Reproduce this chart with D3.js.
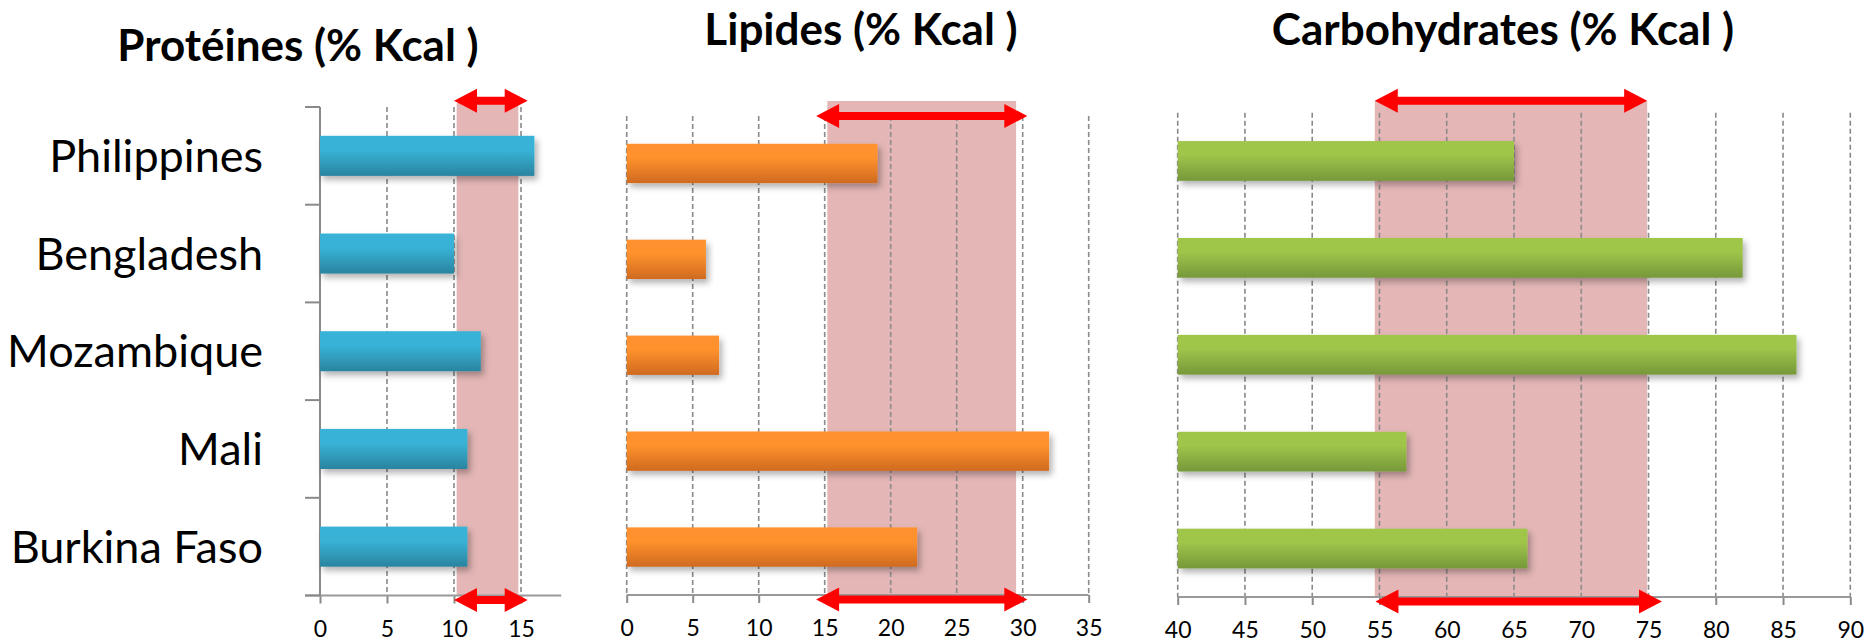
<!DOCTYPE html>
<html lang="fr">
<head>
<meta charset="utf-8">
<title>Apports nutritionnels</title>
<script src="https://d3js.org/d3.v7.min.js"></script>
<style>
  body { margin: 0; background: #fff; }
  text { font-family: Lato, "Open Sans", sans-serif; fill: #000; }
</style>
</head>
<body>
<div id="chart"></div>
<script>
// data
var countries = ["Philippines", "Bengladesh", "Mozambique", "Mali", "Burkina Faso"];
var proteines = [16, 10, 12, 11, 11];
var lipides = [19, 6, 7, 32, 22];
var carbohydrates = [65, 82, 86, 57, 66];

var titles = ["Protéines (% Kcal )", "Lipides (% Kcal )", "Carbohydrates (% Kcal )"];
var proteineTicks = [0, 5, 10, 15];
var lipideTicks = [0, 5, 10, 15, 20, 25, 30, 35];
var carboTicks = [40, 45, 50, 55, 60, 65, 70, 75, 80, 85, 90];

// recommended zone (shaded) and the red arrows
var proteineZone = [10.2, 14.8];
var lipideZone = [15.2, 29.5];
var carboZone = [54.65, 74.9];
var proteineArrow = [10, 15.5];
var lipideArrow = [14.35, 30.35];
var carboArrowTop = [54.65, 74.9];
var carboArrowBottom = [54.7, 76];

var width = 1868, height = 643;

var svg = d3.select("#chart").append("svg")
    .attr("width", width)
    .attr("height", height);

var defs = svg.append("defs");

function gradient(id, top, bottom) {
    var g = defs.append("linearGradient")
        .attr("id", id)
        .attr("x1", 0).attr("y1", 0).attr("x2", 0).attr("y2", 1);
    g.append("stop").attr("offset", "0%").attr("stop-color", top);
    g.append("stop").attr("offset", "35%").attr("stop-color", top);
    g.append("stop").attr("offset", "100%").attr("stop-color", bottom);
}
gradient("gBlue", "#38b3d7", "#2a849f");
gradient("gOrange", "#ff922d", "#cf6a1f");
gradient("gGreen", "#9fc54a", "#76983a");

var shadow = defs.append("filter").attr("id", "shadow")
    .attr("x", "-5%").attr("y", "-20%").attr("width", "115%").attr("height", "160%");
shadow.append("feDropShadow")
    .attr("dx", 3).attr("dy", 4)
    .attr("stdDeviation", 3)
    .attr("flood-color", "#000")
    .attr("flood-opacity", 0.3);

function arrowPath(x1, x2, y) {
    var hl = 23, hh = 12, st = 4;
    return "M" + x1 + "," + y +
        "L" + (x1 + hl) + "," + (y - hh) +
        "L" + (x1 + hl) + "," + (y - st) +
        "L" + (x2 - hl) + "," + (y - st) +
        "L" + (x2 - hl) + "," + (y - hh) +
        "L" + x2 + "," + y +
        "L" + (x2 - hl) + "," + (y + hh) +
        "L" + (x2 - hl) + "," + (y + st) +
        "L" + (x1 + hl) + "," + (y + st) +
        "L" + (x1 + hl) + "," + (y + hh) + "Z";
}

function drawPanel(p) {
    var g = svg.append("g");

    var x = d3.scaleLinear().domain(p.domain).range(p.xRange);
    var y = d3.scaleBand().domain(countries).range(p.yRange)
        .paddingInner(0.59).paddingOuter(0.295);
    var y0 = p.yRange[0], y1 = p.yRange[1];

    // title
    g.append("text")
        .attr("x", p.titleX).attr("y", p.titleY)
        .attr("text-anchor", "middle")
        .style("font-weight", "bold")
        .style("font-size", "44px")
        .text(p.title);

    // shaded zone
    g.append("rect")
        .attr("x", x(p.zone[0]))
        .attr("y", p.zoneTop)
        .attr("width", x(p.zone[1]) - x(p.zone[0]))
        .attr("height", y1 - p.zoneTop)
        .attr("fill", "#e4b6b6");

    // dashed gridlines
    g.selectAll(".grid")
        .data(p.ticks.filter(function(t) { return !(p.yAxis && t === p.domain[0]); }))
        .enter().append("line")
        .attr("x1", function(d) { return x(d); })
        .attr("x2", function(d) { return x(d); })
        .attr("y1", p.gridTop)
        .attr("y2", y1)
        .attr("stroke", "#8a8a8a")
        .attr("stroke-width", 1.6)
        .attr("stroke-dasharray", "5,3");

    // x axis
    var axis = g.append("g")
        .attr("transform", "translate(0," + y1 + ")")
        .call(d3.axisBottom(x).tickValues(p.ticks).tickSize(8).tickPadding(17).tickSizeOuter(0));
    axis.select(".domain").remove();
    axis.selectAll(".tick line").attr("stroke", "#8a8a8a").attr("stroke-width", 2);
    axis.selectAll(".tick text")
        .style("font-size", "23px")
        .style("font-family", "Lato, sans-serif");

    g.append("line")
        .attr("x1", p.yAxis ? x(p.domain[0]) - 15 : x(p.domain[0]))
        .attr("x2", x(p.domain[1]))
        .attr("y1", y1).attr("y2", y1)
        .attr("stroke", "#999").attr("stroke-width", 2);

    // y axis with category ticks (first panel only)
    if (p.yAxis) {
        g.append("line")
            .attr("x1", x(p.domain[0])).attr("x2", x(p.domain[0]))
            .attr("y1", y0).attr("y2", y1)
            .attr("stroke", "#8a8a8a").attr("stroke-width", 2);
        var bounds = d3.range(countries.length + 1).map(function(i) {
            return y0 + i * y.step();
        });
        g.selectAll(".ytick").data(bounds).enter().append("line")
            .attr("x1", x(p.domain[0]) - 15).attr("x2", x(p.domain[0]))
            .attr("y1", function(d) { return d; })
            .attr("y2", function(d) { return d; })
            .attr("stroke", "#8a8a8a").attr("stroke-width", 2);

        g.selectAll(".label").data(countries).enter().append("text")
            .attr("x", 263)
            .attr("y", function(d) { return y(d) + y.bandwidth() / 2; })
            .attr("dy", "0.36em")
            .attr("text-anchor", "end")
            .style("font-size", "45px")
            .text(function(d) { return d; });
    }

    // bars
    g.selectAll(".bar").data(p.values).enter().append("rect")
        .attr("x", x(p.domain[0]))
        .attr("y", function(d, i) { return y(countries[i]); })
        .attr("width", function(d) { return x(d) - x(p.domain[0]); })
        .attr("height", y.bandwidth())
        .attr("fill", "url(#" + p.fill + ")")
        .attr("filter", "url(#shadow)");

    // red arrows
    g.append("path")
        .attr("d", arrowPath(x(p.arrowTop[0]), x(p.arrowTop[1]), p.arrowTopY))
        .attr("fill", "#ff0000");
    g.append("path")
        .attr("d", arrowPath(x(p.arrowBottom[0]), x(p.arrowBottom[1]), y1 + 4.5))
        .attr("fill", "#ff0000");
}

drawPanel({
    title: titles[0], titleX: 298, titleY: 61,
    values: proteines, domain: [0, 18], ticks: proteineTicks,
    xRange: [320, 561.2], yRange: [107, 595.5],
    zone: proteineZone, zoneTop: 103, gridTop: 107,
    arrowTop: proteineArrow, arrowBottom: proteineArrow, arrowTopY: 100.7,
    fill: "gBlue", yAxis: true
});

drawPanel({
    title: titles[1], titleX: 861, titleY: 45,
    values: lipides, domain: [0, 35], ticks: lipideTicks,
    xRange: [626.7, 1088.7], yRange: [115.5, 595],
    zone: lipideZone, zoneTop: 101, gridTop: 116,
    arrowTop: lipideArrow, arrowBottom: lipideArrow, arrowTopY: 116,
    fill: "gOrange", yAxis: false
});

drawPanel({
    title: titles[2], titleX: 1503, titleY: 45,
    values: carbohydrates, domain: [40, 90], ticks: carboTicks,
    xRange: [1177.7, 1850.3], yRange: [112.5, 597],
    zone: carboZone, zoneTop: 101, gridTop: 112.7,
    arrowTop: carboArrowTop, arrowBottom: carboArrowBottom, arrowTopY: 100.7,
    fill: "gGreen", yAxis: false
});
</script>
</body>
</html>
